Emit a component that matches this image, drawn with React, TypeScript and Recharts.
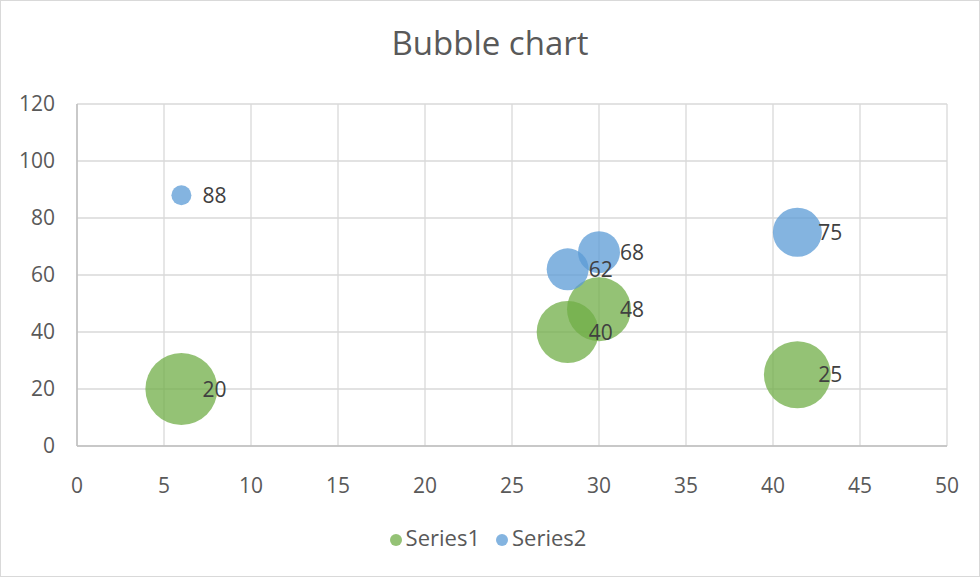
import React from "react";
import { ScatterChart, Scatter, XAxis, YAxis, ZAxis, CartesianGrid, Legend, LabelList } from "recharts";

const series1X = [6, 28.2, 30, 41.4];
const series1Y = [20, 40, 48, 25];
const series1Size = [12.96, 9.61, 10.24, 11.2];

const series2X = [6, 28.2, 30, 41.4];
const series2Y = [88, 62, 68, 75];
const series2Size = [1.0, 4.4, 4.4, 6.0];

const xTicks = [0, 5, 10, 15, 20, 25, 30, 35, 40, 45, 50];
const yTicks = [0, 20, 40, 60, 80, 100, 120];

const build = (xs: number[], ys: number[], zs: number[]) =>
  xs.map((x, i) => ({ x, y: ys[i], z: zs[i] }));

const data1 = build(series1X, series1Y, series1Size);
const data2 = build(series2X, series2Y, series2Size);

const FONT = "'Open Sans', 'Liberation Sans', sans-serif";

const renderLabel = (props: any) => {
  const vb = props.viewBox || props;
  const x = vb.x ?? props.x;
  const y = vb.y ?? props.y;
  const w = vb.width ?? props.width ?? 0;
  const h = vb.height ?? props.height ?? 0;
  const cx = x + w / 2;
  const cy = y + h / 2;
  return (
    <text
      x={cx + 21}
      y={cy}
      dy="0.36em"
      textAnchor="start"
      fill="#404040"
      fontSize={21}
      fontFamily={FONT}
    >
      {props.value}
    </text>
  );
};

export default function App() {
  return (
    <div style={{ position: "relative", width: 980, height: 577, background: "#fff", fontFamily: FONT }}>
      <style>{`body{margin:0}.recharts-legend-item{margin-right:16px !important}`}</style>
      <div
        style={{
          position: "absolute",
          top: 26,
          left: 0,
          width: 980,
          textAlign: "center",
          fontSize: 33,
          lineHeight: "33px",
          color: "#595959",
          fontFamily: FONT,
        }}
      >
        Bubble chart
      </div>
      <ScatterChart width={980} height={577} margin={{ top: 104, right: 33, bottom: 0, left: 17 }}>
        <CartesianGrid stroke="#D9D9D9" strokeWidth={1.3} />
        <XAxis
          type="number"
          dataKey="x"
          domain={[0, 50]}
          ticks={xTicks}
          interval={0}
          tickLine={false}
          tickSize={0}
          tickMargin={32}
          height={101}
          axisLine={{ stroke: "#BFBFBF", strokeWidth: 1.5 }}
          tick={{ fill: "#595959", fontSize: 21, fontFamily: FONT }}
        />
        <YAxis
          type="number"
          dataKey="y"
          domain={[0, 120]}
          ticks={yTicks}
          interval={0}
          width={60}
          tickLine={false}
          tickSize={0}
          tickMargin={22}
          axisLine={{ stroke: "#BFBFBF", strokeWidth: 1.5 }}
          tick={{ fill: "#595959", fontSize: 21, fontFamily: FONT }}
        />
        <ZAxis type="number" dataKey="z" domain={[0, 12.96]} range={[0, Math.PI * 1296]} />
        <Legend
          verticalAlign="bottom"
          align="center"
          iconType="circle"
          iconSize={12}
          wrapperStyle={{ top: 522, bottom: "auto", left: 6, width: 980, fontSize: 22, fontFamily: FONT }}
          formatter={(value: any) => <span style={{ color: "#595959" }}>{value}</span>}
        />
        <Scatter name="Series1" data={data1} fill="rgba(112,173,71,0.75)" legendType="circle" isAnimationActive={false}>
          <LabelList dataKey="y" content={renderLabel} />
        </Scatter>
        <Scatter name="Series2" data={data2} fill="rgba(91,155,213,0.75)" legendType="circle" isAnimationActive={false}>
          <LabelList dataKey="y" content={renderLabel} />
        </Scatter>
      </ScatterChart>
      <div
        style={{
          position: "absolute",
          top: 0,
          left: 0,
          width: 980,
          height: 577,
          boxSizing: "border-box",
          border: "1px solid #D9D9D9",
          pointerEvents: "none",
        }}
      />
    </div>
  );
}
